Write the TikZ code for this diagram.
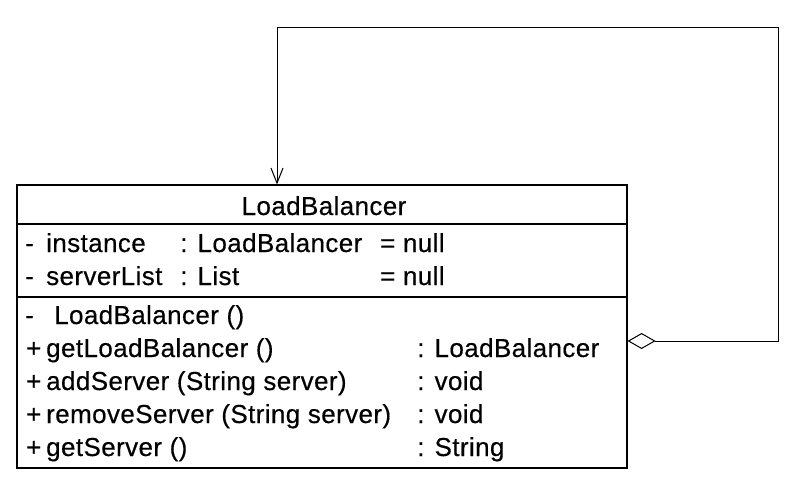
\documentclass[tikz,border=0pt]{standalone}
\usepackage{fontspec}
\setmainfont{Liberation Sans}[LetterSpace=1.5,FakeBold=0.4]
\usetikzlibrary{arrows.meta}
\begin{document}
\begin{tikzpicture}[x=1pt,y=-1pt,
  txt/.style={anchor=base west,inner sep=0pt,font=\fontsize{26}{30}\selectfont},
  ctxt/.style={anchor=base,inner sep=0pt,font=\fontsize{26}{30}\selectfont},
  classbox/.style={draw,line width=1.2pt,minimum width=610pt,minimum height=283pt,inner sep=0pt},
  conn/.style={line width=1pt}]
\useasboundingbox (0,0) rectangle (800,496);
\node[classbox] (lb) at (322,326.5) {};
\draw[line width=1.2pt] (lb.west |- 0,224) -- (lb.east |- 0,224);
\draw[line width=1.2pt] (lb.west |- 0,297) -- (lb.east |- 0,297);
% header
\node[ctxt] (hdr) at (324,215) {LoadBalancer};
% attributes
\node[txt] (a1v) at (25,252) {-};
\node[txt] (a1n) at (46,252) {instance};
\node[txt] (a1t) at (180,252) {: LoadBalancer};
\node[txt] (a1d) at (380,252) {= null};
\node[txt] (a2v) at (25,285) {-};
\node[txt] (a2n) at (46,285) {serverList};
\node[txt] (a2t) at (180,285) {: List};
\node[txt] (a2d) at (380,285) {= null};
% methods
\node[txt] (m1v) at (25,324) {-};
\node[txt] (m1n) at (54,324) {LoadBalancer ()};
\node[txt] (m2v) at (26,357) {+};
\node[txt] (m2n) at (46,357) {getLoadBalancer ()};
\node[txt] (m2t) at (417,357) {: LoadBalancer};
\node[txt] (m3v) at (26,390) {+};
\node[txt] (m3n) at (46,390) {addServer (String server)};
\node[txt] (m3t) at (417,390) {: void};
\node[txt] (m4v) at (26,423) {+};
\node[txt] (m4n) at (46,423) {removeServer (String server)};
\node[txt] (m4t) at (417,423) {: void};
\node[txt] (m5v) at (26,456) {+};
\node[txt] (m5n) at (46,456) {getServer ()};
\node[txt] (m5t) at (417,456) {: String};
% self aggregation
\coordinate (c1) at (778,341);
\coordinate (c2) at (778,27);
\coordinate (c3) at (277,27);
\draw[conn,{Diamond[open,length=28pt,width=16pt,line width=1pt]}-{Straight Barb[length=15pt,width=12pt,line width=1pt]}]
  (lb.east |- c1) -- (c1) -- (c2) -- (c3) -- (lb.north -| c3);
\end{tikzpicture}
\end{document}
